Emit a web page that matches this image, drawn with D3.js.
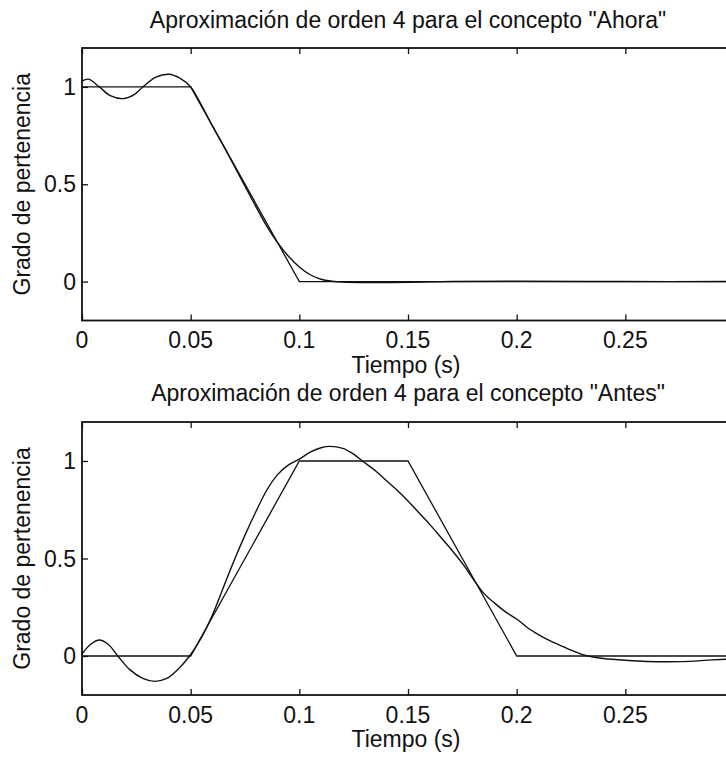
<!DOCTYPE html>
<html>
<head>
<meta charset="utf-8">
<script src="https://cdn.jsdelivr.net/npm/d3@7"></script>
<style>
  html, body { margin: 0; padding: 0; background: #fff; }
  svg { display: block; }
  text { font-family: "Liberation Sans", Arial, Helvetica, sans-serif; fill: #111; }
</style>
</head>
<body>
<svg id="chart" width="726" height="758"></svg>
<script>
// ---------- data ----------
const xTicks = [0, 0.05, 0.1, 0.15, 0.2, 0.25, 0.3];
const xTickLabels = ["0", "0.05", "0.1", "0.15", "0.2", "0.25"]; // 0.3 label falls outside the picture
const yTicks = [0, 0.5, 1];
const yTickLabels = ["0", "0.5", "1"];

const titles = ['Aproximación de orden 4 para el concepto "Ahora"',
                'Aproximación de orden 4 para el concepto "Antes"'];
const xLabel = "Tiempo (s)";
const yLabel = "Grado de pertenencia";

// membership functions (trapezoids)
const ahoraT = [0, 0.05, 0.1, 0.3];
const ahoraV = [1, 1, 0, 0];
const antesT = [0, 0.05, 0.1, 0.15, 0.2, 0.3];
const antesV = [0, 0, 1, 1, 0, 0];

// order-4 approximations
const ahoraApproxT = [0, 0.003, 0.008, 0.013, 0.019, 0.024, 0.028, 0.034, 0.040, 0.045, 0.050,
  0.055, 0.060, 0.065, 0.070, 0.075, 0.080, 0.085, 0.090, 0.095, 0.100, 0.105, 0.110, 0.115,
  0.120, 0.130, 0.150, 0.170, 0.200, 0.250, 0.300];
const ahoraApproxV = [1.03, 1.04, 1.0, 0.955, 0.94, 0.96, 1.0, 1.05, 1.065, 1.045, 1.0,
  0.905, 0.80, 0.70, 0.595, 0.49, 0.385, 0.285, 0.20, 0.13, 0.075, 0.035, 0.012, 0.002,
  -0.003, -0.005, -0.004, 0.0, 0.002, 0.0, 0.0];

const antesApproxT = [0, 0.004, 0.008, 0.012, 0.0165, 0.022, 0.028, 0.0335, 0.039, 0.044, 0.0495,
  0.055, 0.060, 0.065, 0.070, 0.075, 0.080, 0.085, 0.090, 0.095, 0.100, 0.105, 0.110, 0.114,
  0.120, 0.125, 0.129, 0.135, 0.140, 0.145, 0.150, 0.155, 0.160, 0.165, 0.170, 0.175, 0.180,
  0.185, 0.190, 0.195, 0.200, 0.205, 0.210, 0.215, 0.220, 0.225, 0.230, 0.235, 0.240, 0.250,
  0.260, 0.275, 0.290, 0.300];
const antesApproxV = [0.01, 0.06, 0.082, 0.06, 0.0, -0.07, -0.115, -0.13, -0.115, -0.07, 0.0,
  0.095, 0.21, 0.35, 0.49, 0.62, 0.74, 0.85, 0.93, 0.98, 1.01, 1.045, 1.068, 1.075,
  1.065, 1.035, 1.0, 0.95, 0.90, 0.85, 0.795, 0.735, 0.675, 0.61, 0.545, 0.475, 0.395,
  0.32, 0.27, 0.225, 0.19, 0.145, 0.11, 0.08, 0.055, 0.03, 0.008, -0.005, -0.013, -0.022,
  -0.028, -0.029, -0.02, -0.015];

// ---------- layout ----------
const svg = d3.select("#chart");
const FS = 23;
const panels = [
  { top: 48, bottom: 320.5, title: titles[0], trapT: ahoraT, trapV: ahoraV, apT: ahoraApproxT, apV: ahoraApproxV, titleY: 28 },
  { top: 422, bottom: 695, title: titles[1], trapT: antesT, trapV: antesV, apT: antesApproxT, apV: antesApproxV, titleY: 401 }
];
const left = 82, right = 734;

panels.forEach(p => {
  const x = d3.scaleLinear().domain([0, 0.3]).range([left, right]);
  const y = d3.scaleLinear().domain([-0.2, 1.2]).range([p.bottom, p.top]);
  const g = svg.append("g");

  // axes (inside ticks, MATLAB style)
  const tick = 6;
  g.append("g").attr("transform", `translate(0,${p.bottom})`)
    .call(d3.axisTop(x).tickValues(xTicks).tickSize(tick).tickFormat(() => ""))
    .call(a => a.select(".domain").remove());
  g.append("g").attr("transform", `translate(0,${p.top})`)
    .call(d3.axisBottom(x).tickValues(xTicks).tickSize(tick).tickFormat(() => ""))
    .call(a => a.select(".domain").remove());
  g.append("g").attr("transform", `translate(${left},0)`)
    .call(d3.axisRight(y).tickValues(yTicks).tickSize(tick).tickFormat(() => ""))
    .call(a => a.select(".domain").remove());
  g.append("g").attr("transform", `translate(${right},0)`)
    .call(d3.axisLeft(y).tickValues(yTicks).tickSize(tick).tickFormat(() => ""))
    .call(a => a.select(".domain").remove());
  g.selectAll(".tick line").attr("stroke", "#111").attr("stroke-width", 1.3);

  // box
  g.append("rect").attr("x", left).attr("y", p.top)
    .attr("width", right - left).attr("height", p.bottom - p.top)
    .attr("fill", "none").attr("stroke", "#111").attr("stroke-width", 1.8);

  // tick labels
  g.selectAll(".xl").data(xTickLabels).enter().append("text")
    .attr("x", (d, i) => x(xTicks[i])).attr("y", p.bottom + 27.5)
    .attr("text-anchor", "middle").attr("font-size", FS)
    .text(d => d);
  g.selectAll(".yl").data(yTicks).enter().append("text")
    .attr("x", left - 6).attr("y", d => y(d) + 8)
    .attr("text-anchor", "end").attr("font-size", FS)
    .text((d, i) => yTickLabels[i]);

  // labels
  g.append("text").attr("x", (left + right) / 2 - 2).attr("y", p.bottom + 52)
    .attr("text-anchor", "middle").attr("font-size", FS).text(xLabel);
  g.append("text")
    .attr("transform", `translate(30,${(p.top + p.bottom) / 2}) rotate(-90)`)
    .attr("text-anchor", "middle").attr("font-size", FS).text(yLabel);
  g.append("text").attr("x", (left + right) / 2).attr("y", p.titleY)
    .attr("text-anchor", "middle").attr("font-size", FS).text(p.title);

  // lines
  const trap = d3.line().x(d => x(d[0])).y(d => y(d[1]));
  g.append("path").datum(p.trapT.map((t, i) => [t, p.trapV[i]]))
    .attr("d", trap).attr("fill", "none").attr("stroke", "#111").attr("stroke-width", 1.3);
  const smooth = d3.line().x(d => x(d[0])).y(d => y(d[1])).curve(d3.curveCatmullRom.alpha(0.5));
  g.append("path").datum(p.apT.map((t, i) => [t, p.apV[i]]))
    .attr("d", smooth).attr("fill", "none").attr("stroke", "#111").attr("stroke-width", 1.4);
});
</script>
</body>
</html>
